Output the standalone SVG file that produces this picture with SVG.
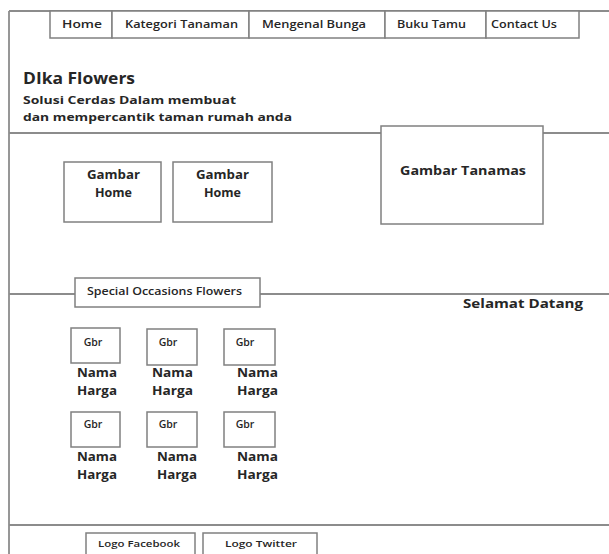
<svg xmlns="http://www.w3.org/2000/svg" width="609" height="554" viewBox="0 0 609 554">
<style>
.b{fill:#fff;stroke:#808080;stroke-width:1.5}
.ln{stroke:#8c8c8c;stroke-width:1.8;fill:none}
text{font-family:"Open Sans","Liberation Sans",sans-serif;fill:#262626;font-weight:600}
.m{text-anchor:middle}
.nav{font-size:11.5px}
.s{font-size:10.5px}
.t{font-size:11.5px;font-weight:700}
</style>
<rect width="609" height="554" fill="#fff"/>
<g id="connectors">
<line class="ln" x1="9" y1="11" x2="609" y2="11"/>
<line class="ln" x1="9" y1="11" x2="9" y2="554"/>
<line class="ln" x1="9" y1="133" x2="609" y2="133"/>
<line class="ln" x1="9" y1="294" x2="609" y2="294"/>
<line class="ln" x1="9" y1="525" x2="609" y2="525"/>
</g>
<g id="nav">
<rect class="b" x="50" y="11" width="62" height="27"/>
<text class="nav" x="62" y="28" textLength="40" lengthAdjust="spacingAndGlyphs">Home</text>
<rect class="b" x="112" y="11" width="137" height="27"/>
<text class="nav" x="125" y="28" textLength="113" lengthAdjust="spacingAndGlyphs">Kategori Tanaman</text>
<rect class="b" x="249" y="11" width="136" height="27"/>
<text class="nav" x="262" y="28" textLength="104" lengthAdjust="spacingAndGlyphs">Mengenal Bunga</text>
<rect class="b" x="385" y="11" width="101" height="27"/>
<text class="nav" x="397" y="28" textLength="69" lengthAdjust="spacingAndGlyphs">Buku Tamu</text>
<rect class="b" x="486" y="11" width="93" height="27"/>
<text class="nav" x="491" y="28" textLength="66" lengthAdjust="spacingAndGlyphs">Contact Us</text>
</g>
<g id="header">
<text x="23" y="84" style="font-size:15.5px;font-weight:700" textLength="112" lengthAdjust="spacingAndGlyphs">DIka Flowers</text>
<text x="23" y="104" style="font-size:11px;font-weight:700" textLength="213" lengthAdjust="spacingAndGlyphs">Solusi Cerdas Dalam membuat</text>
<text x="23" y="121" style="font-size:11px;font-weight:700" textLength="269" lengthAdjust="spacingAndGlyphs">dan mempercantik taman rumah anda</text>
</g>
<g id="gambar-home-1">
<rect class="b" x="64" y="162" width="97" height="60"/>
<text class="t" x="87" y="179" textLength="53" lengthAdjust="spacingAndGlyphs">Gambar</text>
<text class="t" x="95" y="197" textLength="37" lengthAdjust="spacingAndGlyphs">Home</text>
</g>
<g id="gambar-home-2">
<rect class="b" x="173" y="162" width="99" height="60"/>
<text class="t" x="196" y="179" textLength="53" lengthAdjust="spacingAndGlyphs">Gambar</text>
<text class="t" x="204" y="197" textLength="37" lengthAdjust="spacingAndGlyphs">Home</text>
</g>
<g id="gambar-tanamas">
<rect class="b" x="381" y="126" width="162" height="98"/>
<text x="400" y="175" style="font-size:12.5px;font-weight:700" textLength="126" lengthAdjust="spacingAndGlyphs">Gambar Tanamas</text>
</g>
<g id="special">
<rect class="b" x="75" y="278" width="185" height="29"/>
<text x="87" y="295" style="font-size:10px" textLength="155" lengthAdjust="spacingAndGlyphs">Special Occasions Flowers</text>
</g>
<g id="selamat">
<text x="463" y="308" style="font-size:13px;font-weight:700" textLength="120" lengthAdjust="spacingAndGlyphs">Selamat Datang</text>
</g>
<g id="item-1">
<rect class="b" x="71" y="328" width="49" height="35"/>
<text class="m s" x="93" y="346">Gbr</text>
<text class="t" x="77" y="377" textLength="40" lengthAdjust="spacingAndGlyphs">Nama</text>
<text class="t" x="77" y="395" textLength="40" lengthAdjust="spacingAndGlyphs">Harga</text>
</g>
<g id="item-2">
<rect class="b" x="147" y="329" width="50" height="36"/>
<text class="m s" x="168" y="346">Gbr</text>
<text class="t" x="152" y="377" textLength="41" lengthAdjust="spacingAndGlyphs">Nama</text>
<text class="t" x="152" y="395" textLength="41" lengthAdjust="spacingAndGlyphs">Harga</text>
</g>
<g id="item-3">
<rect class="b" x="224" y="329" width="51" height="36"/>
<text class="m s" x="245" y="346">Gbr</text>
<text class="t" x="237" y="377" textLength="41" lengthAdjust="spacingAndGlyphs">Nama</text>
<text class="t" x="237" y="395" textLength="41" lengthAdjust="spacingAndGlyphs">Harga</text>
</g>
<g id="item-4">
<rect class="b" x="71" y="412" width="49" height="35"/>
<text class="m s" x="93" y="428">Gbr</text>
<text class="t" x="77" y="461" textLength="40" lengthAdjust="spacingAndGlyphs">Nama</text>
<text class="t" x="77" y="479" textLength="40" lengthAdjust="spacingAndGlyphs">Harga</text>
</g>
<g id="item-5">
<rect class="b" x="147" y="412" width="50" height="35"/>
<text class="m s" x="168" y="428">Gbr</text>
<text class="t" x="157" y="461" textLength="40" lengthAdjust="spacingAndGlyphs">Nama</text>
<text class="t" x="157" y="479" textLength="40" lengthAdjust="spacingAndGlyphs">Harga</text>
</g>
<g id="item-6">
<rect class="b" x="224" y="412" width="51" height="35"/>
<text class="m s" x="245" y="428">Gbr</text>
<text class="t" x="237" y="461" textLength="41" lengthAdjust="spacingAndGlyphs">Nama</text>
<text class="t" x="237" y="479" textLength="41" lengthAdjust="spacingAndGlyphs">Harga</text>
</g>
<g id="logo-facebook">
<rect class="b" x="86" y="533" width="109" height="30"/>
<text x="98" y="547" style="font-size:9.5px" textLength="82" lengthAdjust="spacingAndGlyphs">Logo Facebook</text>
</g>
<g id="logo-twitter">
<rect class="b" x="203" y="533" width="114" height="30"/>
<text x="225" y="547" style="font-size:9.5px" textLength="72" lengthAdjust="spacingAndGlyphs">Logo Twitter</text>
</g>
</svg>
